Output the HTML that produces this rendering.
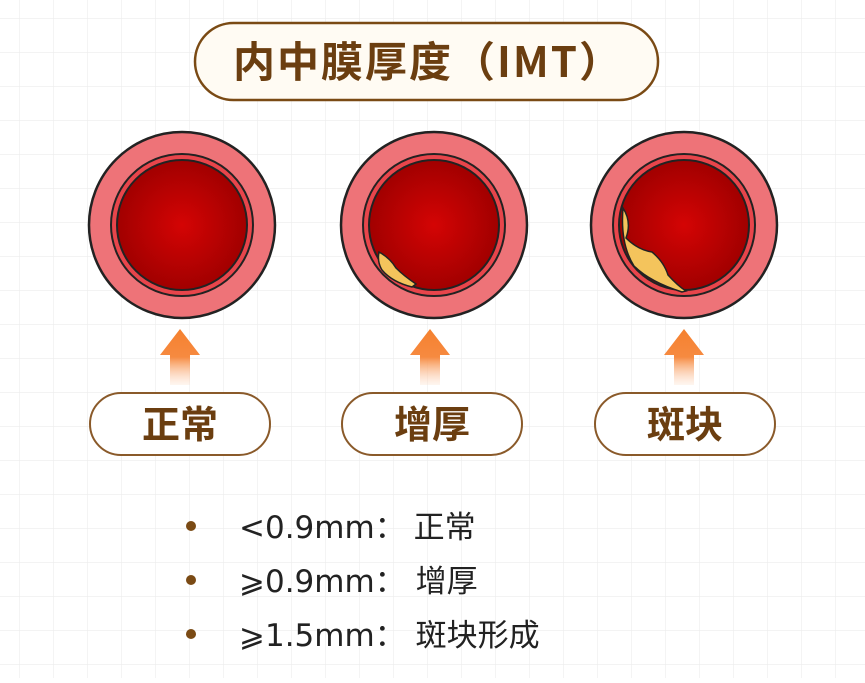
<!DOCTYPE html>
<html><head><meta charset="utf-8"><style>
html,body{margin:0;padding:0;background:#fff}
body{width:865px;height:678px;overflow:hidden}
</style></head><body>
<svg width="865" height="678" viewBox="0 0 865 678" xmlns="http://www.w3.org/2000/svg" font-family="Liberation Sans, Noto Sans CJK SC, sans-serif">
<defs>
<pattern id="g" width="34" height="34" patternUnits="userSpaceOnUse" x="19" y="18">
<path d="M0 0H34M0 0V34" stroke="#ececec" stroke-width="1.2" fill="none"/>
</pattern>
<radialGradient id="lum"><stop offset="0" stop-color="#d40404"/><stop offset="1" stop-color="#a10000"/></radialGradient>
<linearGradient id="arr" x1="0" y1="0" x2="0" y2="1"><stop offset="0" stop-color="#f5812f"/><stop offset="0.5" stop-color="#f68a40"/><stop offset="1" stop-color="#fde0cc" stop-opacity="0.3"/></linearGradient>
<g id="vessel">
<circle r="93" fill="#ee7378" stroke="#222" stroke-width="2.5"/>
<circle r="71" fill="#e8454b" stroke="#222" stroke-width="2"/>
<circle r="65" fill="url(#lum)" stroke="#222" stroke-width="2"/>
</g>
<g id="arrow">
<path d="M0 0 L20 26 L10 26 L10 56 L-10 56 L-10 26 L-20 26 Z" fill="url(#arr)"/>
</g>
</defs>
<rect width="865" height="678" fill="url(#g)"/>
<rect x="195" y="23" width="463" height="77" rx="38.5" fill="#fffbf3" stroke="#7a4a14" stroke-width="2.5"/>
<text x="428" y="77" text-anchor="middle" font-size="42" font-weight="bold" fill="#6b3e10" letter-spacing="2" font-family="Noto Sans CJK SC, sans-serif">内中膜厚度（IMT）</text>

<use href="#vessel" x="182" y="225"/>
<use href="#vessel" x="434" y="225"/>
<use href="#vessel" x="684" y="225"/>
<path d="M379 252 Q390 258 396 268 Q404 276 416 284 L412 287 Q392 282 382 270 Q377 262 379 252Z" fill="#f4c45c" stroke="#222" stroke-width="1.5"/>
<path d="M623 208 Q632 222 626 238 Q638 250 652 252 Q664 262 668 275 Q678 286 686 291 L682 292 Q650 282 634 266 Q620 244 623 208Z" fill="#f4c45c" stroke="#222" stroke-width="1.5"/>

<use href="#arrow" x="180" y="329"/>
<use href="#arrow" x="430" y="329"/>
<use href="#arrow" x="684" y="329"/>

<g fill="#fff" stroke="#8a5a2a" stroke-width="2">
<rect x="90" y="393" width="180" height="62" rx="31"/>
<rect x="342" y="393" width="180" height="62" rx="31"/>
<rect x="595" y="393" width="180" height="62" rx="31"/>
</g>
<g font-size="38" font-weight="bold" fill="#6b3e10" text-anchor="middle" font-family="Noto Sans CJK SC, sans-serif">
<text x="180" y="438">正常</text>
<text x="432" y="438">增厚</text>
<text x="685" y="438">斑块</text>
</g>

<g fill="#7a4a14"><circle cx="191" cy="526" r="5"/><circle cx="191" cy="580" r="5"/><circle cx="191" cy="634" r="5"/></g>
<g font-size="31" fill="#222" font-family="DejaVu Sans, Noto Sans CJK SC, sans-serif">
<text x="239" y="538">&lt;0.9mm：<tspan dx="8">正常</tspan></text>
<text x="239" y="592">⩾0.9mm：<tspan dx="10">增厚</tspan></text>
<text x="239" y="646">⩾1.5mm：<tspan dx="10">斑块形成</tspan></text>
</g>
</svg>
</body></html>
